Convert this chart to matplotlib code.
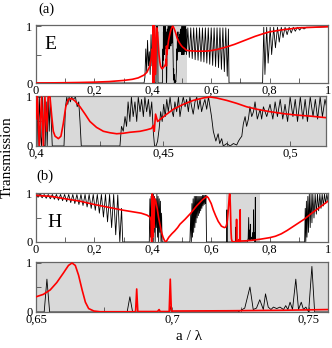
import numpy as np
import matplotlib
matplotlib.use("Agg")
import matplotlib.pyplot as plt
from matplotlib.ticker import FuncFormatter, MultipleLocator

plt.rcParams['font.family'] = ['Liberation Serif', 'DejaVu Serif']

# ---- E polarisation: (a/lambda, transmission) ----
e_black = [
    (0.0, 0.0), (0.37, 0.0), (0.373, 0.1), (0.376, 0.6), (0.379, 0.2), (0.382, 0.75),
    (0.385, 0.3), (0.388, 0.55), (0.391, 0.15), (0.394, 0.85), (0.397, 0.3), (0.3995, 0.7),
    (0.4000, 0.6), (0.4004, 1.0), (0.4008, 0.0), (0.4013, 1.0), (0.4018, 0.2), (0.4022, 0.0),
    (0.4026, 1.0), (0.4031, 0.0), (0.4036, 0.0), (0.4040, 0.9), (0.4044, 0.0), (0.4048, 1.0),
    (0.4052, 0.3), (0.4056, 1.0), (0.4060, 0.5), (0.4064, 0.0), (0.4110, 0.0), (0.4116, 0.8),
    (0.4121, 1.0), (0.4125, 0.85), (0.4130, 1.0), (0.4135, 0.9), (0.4140, 1.0), (0.4147, 0.95),
    (0.4155, 1.0), (0.4162, 0.8), (0.4168, 0.9), (0.4173, 0.5), (0.4178, 0.0), (0.4330, 0.0),
    (0.4336, 0.4), (0.4343, 0.3), (0.4350, 0.6), (0.4356, 0.4), (0.4362, 0.9), (0.4369, 0.5),
    (0.4375, 1.0), (0.4382, 0.6), (0.4389, 0.9), (0.4396, 0.5), (0.4402, 1.0), (0.4409, 0.7),
    (0.4415, 0.95), (0.4422, 0.6), (0.4428, 1.0), (0.4435, 0.7), (0.4442, 0.95), (0.4448, 0.6),
    (0.4455, 0.9), (0.4461, 0.3), (0.4466, 0.0), (0.4472, 0.0), (0.4478, 0.1), (0.4484, 0.35),
    (0.4490, 0.7), (0.4496, 0.5), (0.4502, 0.85), (0.4508, 0.6), (0.4514, 0.95), (0.4520, 0.7),
    (0.4527, 1.0), (0.4533, 0.75), (0.4540, 0.6), (0.4546, 0.9), (0.4553, 0.7), (0.4560, 1.0),
    (0.4566, 0.6), (0.4573, 0.85), (0.4579, 1.0), (0.4586, 0.8), (0.4592, 0.95), (0.4599, 0.7),
    (0.4605, 1.0), (0.4612, 0.8), (0.4618, 0.65), (0.4625, 0.9), (0.4632, 1.0), (0.4638, 0.75),
    (0.4645, 0.95), (0.4651, 0.7), (0.4658, 0.85), (0.4664, 0.95), (0.4671, 0.75), (0.4678, 1.0),
    (0.4690, 0.6), (0.4697, 0.3), (0.4707, 0.1), (0.4716, 0.25), (0.4722, 0.05), (0.4730, 0.15),
    (0.4736, 0.0), (0.4750, 0.05), (0.4763, 0.0), (0.4776, 0.05), (0.4789, 0.02), (0.4796, 0.1),
    (0.4802, 0.15), (0.4809, 0.2), (0.4815, 0.45), (0.4822, 0.6), (0.4828, 0.4), (0.4835, 0.55),
    (0.4841, 0.8), (0.4848, 0.6), (0.4855, 0.7), (0.4861, 0.9), (0.4870, 0.55), (0.4881, 0.75),
    (0.4887, 0.55), (0.4894, 0.8), (0.4907, 0.6), (0.4920, 0.85), (0.4931, 0.55), (0.4940, 0.9),
    (0.4949, 0.6), (0.4960, 0.95), (0.4970, 0.55), (0.4979, 0.85), (0.4989, 0.5), (0.4999, 1.0),
    (0.5010, 0.6), (0.5019, 0.95), (0.5028, 0.5), (0.5039, 1.0), (0.5049, 0.55), (0.5058, 0.95),
    (0.5067, 0.5), (0.5078, 1.0), (0.5089, 0.6), (0.5098, 0.95), (0.5107, 0.55), (0.5117, 1.0),
    (0.5126, 0.6), (0.5136, 0.95), (0.5155, 0.5), (0.520, 0.97), (0.525, 0.45), (0.530, 0.97),
    (0.535, 0.43), (0.540, 0.97), (0.545, 0.41), (0.550, 0.97), (0.555, 0.4), (0.560, 0.97),
    (0.565, 0.38), (0.570, 0.97), (0.575, 0.37), (0.580, 0.97), (0.585, 0.35), (0.590, 0.97),
    (0.595, 0.33), (0.600, 0.97), (0.605, 0.31), (0.610, 0.97), (0.615, 0.29), (0.620, 0.97),
    (0.625, 0.27), (0.630, 0.97), (0.635, 0.24), (0.640, 0.97), (0.645, 0.2), (0.650, 0.97),
    (0.655, 0.12), (0.659, 0.95), (0.661, 0.0), (0.776, 0.0), (0.780, 0.98), (0.784, 0.15),
    (0.790, 0.98), (0.795, 0.35), (0.802, 0.98), (0.807, 0.5), (0.814, 0.98), (0.820, 0.62),
    (0.827, 0.98), (0.833, 0.72), (0.840, 0.98), (0.846, 0.8), (0.853, 0.98), (0.860, 0.85),
    (0.867, 0.98), (0.874, 0.88), (0.881, 0.98), (0.888, 0.91), (0.895, 0.98), (0.903, 0.93),
    (0.910, 0.98), (0.918, 0.95), (0.926, 0.98), (0.95, 0.98), (1.0, 0.99),
]
e_red = [
    (0.0, 0.0), (0.05, 0.002), (0.1, 0.005), (0.15, 0.009), (0.2, 0.015), (0.25, 0.025),
    (0.3, 0.045), (0.33, 0.065), (0.35, 0.09), (0.37, 0.14), (0.38, 0.19), (0.39, 0.3),
    (0.395, 0.45), (0.398, 0.6), (0.4000, 0.55), (0.4005, 1.05), (0.4013, 0.0), (0.4022, 1.0),
    (0.4029, 0.0), (0.4035, 1.0), (0.4042, 0.3), (0.4048, 1.0), (0.4055, 1.0), (0.4062, 0.6),
    (0.4068, 0.3), (0.4075, 0.2), (0.4088, 0.15), (0.4098, 0.2), (0.4107, 0.45), (0.4117, 0.8),
    (0.4127, 0.95), (0.4140, 0.97), (0.4153, 0.92), (0.4173, 0.8), (0.4193, 0.65), (0.4212, 0.5),
    (0.4238, 0.38), (0.4265, 0.3), (0.4291, 0.27), (0.4317, 0.25), (0.4343, 0.26), (0.4369, 0.28),
    (0.4409, 0.3), (0.4435, 0.33), (0.4455, 0.36), (0.4461, 0.42), (0.4465, 0.3), (0.4470, 0.65),
    (0.4478, 0.5), (0.4490, 0.55), (0.4514, 0.65), (0.4540, 0.75), (0.4579, 0.85), (0.4618, 0.93),
    (0.4658, 0.98), (0.4684, 1.0), (0.4710, 0.98), (0.4750, 0.93), (0.4789, 0.87), (0.4828, 0.8),
    (0.4868, 0.75), (0.4920, 0.7), (0.4973, 0.66), (0.5025, 0.63), (0.5078, 0.61), (0.5136, 0.58),
    (0.52, 0.57), (0.55, 0.56), (0.58, 0.56), (0.6, 0.57), (0.62, 0.59), (0.65, 0.63),
    (0.68, 0.68), (0.7, 0.72), (0.73, 0.78), (0.75, 0.82), (0.78, 0.87), (0.8, 0.9),
    (0.85, 0.94), (0.9, 0.97), (0.95, 0.98), (1.0, 0.99),
]

# ---- H polarisation ----
h_black = [
    (0.000, 0.99), (0.007, 0.93), (0.014, 0.99), (0.021, 0.92), (0.028, 0.99), (0.035, 0.91),
    (0.042, 0.99), (0.049, 0.9), (0.056, 0.99), (0.063, 0.89), (0.070, 0.99), (0.077, 0.87),
    (0.084, 0.99), (0.091, 0.86), (0.098, 0.99), (0.105, 0.84), (0.112, 0.99), (0.119, 0.82),
    (0.126, 0.99), (0.133, 0.8), (0.140, 0.99), (0.147, 0.78), (0.154, 0.99), (0.161, 0.76),
    (0.168, 0.99), (0.175, 0.73), (0.182, 0.99), (0.189, 0.7), (0.196, 0.99), (0.203, 0.66),
    (0.210, 0.99), (0.217, 0.6), (0.224, 0.99), (0.231, 0.52), (0.238, 0.99), (0.245, 0.42),
    (0.252, 0.99), (0.259, 0.3), (0.266, 0.99), (0.273, 0.15), (0.280, 0.98), (0.287, 0.0),
    (0.293, 0.7), (0.297, 0.0), (0.388, 0.0), (0.390, 0.9), (0.392, 0.1), (0.394, 0.95),
    (0.396, 0.0), (0.398, 0.8), (0.400, 0.0), (0.402, 1.0), (0.404, 0.2), (0.406, 0.95),
    (0.408, 0.0), (0.410, 0.9), (0.412, 0.3), (0.414, 1.0), (0.416, 0.1), (0.418, 0.95),
    (0.420, 0.0), (0.422, 0.9), (0.424, 0.2), (0.426, 0.85), (0.428, 0.0), (0.430, 0.6),
    (0.432, 0.0), (0.527, 0.0), (0.530, 0.6), (0.532, 0.0), (0.534, 0.8), (0.536, 0.1),
    (0.538, 0.9), (0.540, 0.2), (0.542, 0.95), (0.544, 0.3), (0.546, 0.95), (0.548, 0.4),
    (0.550, 0.95), (0.552, 0.5), (0.554, 0.95), (0.556, 0.55), (0.558, 0.95), (0.560, 0.6),
    (0.562, 0.95), (0.564, 0.65), (0.566, 0.95), (0.568, 0.7), (0.570, 0.97), (0.572, 0.75),
    (0.574, 0.97), (0.576, 0.78), (0.578, 0.97), (0.580, 0.8), (0.582, 0.97), (0.584, 0.0),
    (0.6530, 0.0), (0.6540, 0.67), (0.6550, 0.0), (0.6834, 0.0), (0.6844, 0.31), (0.6854, 0.0),
    (0.6990, 0.0), (0.6994, 0.12), (0.6998, 0.0), (0.7240, 0.0), (0.7265, 0.08), (0.7284, 0.51),
    (0.7296, 0.05), (0.7308, 0.08), (0.7320, 0.25), (0.7333, 0.05), (0.7341, 0.37), (0.7351, 0.1),
    (0.7361, 0.05), (0.7370, 0.1), (0.7382, 0.07), (0.7394, 0.1), (0.7407, 0.05), (0.7415, 0.13),
    (0.7423, 0.05), (0.7431, 0.2), (0.7440, 0.05), (0.7452, 0.67), (0.7462, 0.05), (0.7472, 0.2),
    (0.7480, 0.05), (0.7489, 0.1), (0.7499, 0.0), (0.7511, 0.93), (0.7521, 0.0), (0.920, 0.0),
    (0.922, 0.7), (0.924, 0.0), (0.926, 0.85), (0.928, 0.1), (0.931, 0.95), (0.933, 0.2),
    (0.936, 1.0), (0.939, 0.3), (0.942, 1.0), (0.945, 0.4), (0.948, 1.0), (0.952, 0.5),
    (0.956, 1.0), (0.960, 0.58), (0.964, 1.0), (0.968, 0.65), (0.972, 1.0), (0.976, 0.7),
    (0.980, 1.0), (0.984, 0.75), (0.988, 1.0), (0.992, 0.8), (0.996, 1.0), (1.0, 0.85),
]
h_red = [
    (0.0, 0.97), (0.05, 0.95), (0.1, 0.9), (0.15, 0.85), (0.2, 0.78), (0.25, 0.72),
    (0.3, 0.66), (0.33, 0.63), (0.36, 0.6), (0.38, 0.56), (0.39, 0.52), (0.394, 0.45),
    (0.396, 0.0), (0.398, 1.0), (0.400, 0.1), (0.402, 0.95), (0.404, 0.3), (0.406, 0.9),
    (0.410, 0.85), (0.415, 0.7), (0.42, 0.5), (0.425, 0.35), (0.43, 0.2), (0.435, 0.1),
    (0.44, 0.03), (0.445, 0.0), (0.455, 0.1), (0.465, 0.17), (0.475, 0.23), (0.485, 0.3),
    (0.493, 0.37), (0.51, 0.47), (0.53, 0.6), (0.55, 0.75), (0.57, 0.88), (0.585, 0.95),
    (0.59, 0.92), (0.6, 0.8), (0.607, 0.67), (0.615, 0.55), (0.624, 0.43), (0.635, 0.33),
    (0.645, 0.3), (0.650, 0.31), (0.6527, 0.36), (0.6552, 0.45), (0.6576, 0.6), (0.6601, 0.8),
    (0.6619, 0.95), (0.6632, 1.0), (0.6644, 0.95), (0.6656, 0.75), (0.6669, 0.45), (0.6681, 0.2),
    (0.6693, 0.07), (0.6712, 0.02), (0.6736, 0.005), (0.6859, 0.005), (0.6865, 0.01), (0.6869, 0.47),
    (0.6873, 0.01), (0.6945, 0.01), (0.6951, 0.05), (0.6955, 0.01), (0.6988, 0.01), (0.6992, 0.67),
    (0.6996, 0.02), (0.72, 0.025), (0.74, 0.035), (0.757, 0.05), (0.77, 0.06), (0.8, 0.09),
    (0.82, 0.12), (0.84, 0.17), (0.86, 0.24), (0.88, 0.32), (0.9, 0.4), (0.92, 0.48),
    (0.94, 0.58), (0.96, 0.67), (0.98, 0.76), (1.0, 0.85),
]

e_band = (0.408, 0.518)
h_band = (0.652, 0.768)
shade = '#d9d9d9'


def comma(v, pos):
    s = ('%.3f' % v).rstrip('0').rstrip('.')
    return s.replace('.', ',')


W, H = 332.0, 348.0
fig = plt.figure(figsize=(W / 100, H / 100), dpi=100)


def make_ax(x0, y0, x1, y1):
    return fig.add_axes([x0 / W, 1 - y1 / H, (x1 - x0) / W, (y1 - y0) / H])


ax1 = make_ax(36, 25, 328, 83)
ax2 = make_ax(36, 96, 326, 146)
ax3 = make_ax(36, 193, 328, 242)
ax4 = make_ax(36, 262, 328, 312)

panels = [
    (ax1, e_black, e_red, (0, 1), 0.2, 0.1),
    (ax2, e_black, e_red, (0.4, 0.514), 0.05, 0.025),
    (ax3, h_black, h_red, (0, 1), 0.2, 0.1),
    (ax4, h_black, h_red, (0.65, 0.757), 0.05, 0.025),
]
for ax, blk, red, xl, maj, mnr in panels:
    b = np.array(blk)
    r = np.array(red)
    ax.plot(b[:, 0], b[:, 1], color='black', lw=0.6, zorder=2)
    ax.plot(r[:, 0], r[:, 1], color='#ff0000', lw=1.2, zorder=3)
    ax.set_xlim(*xl)
    ax.set_ylim(0, 1.02)
    ax.xaxis.set_major_locator(MultipleLocator(maj))
    ax.xaxis.set_minor_locator(MultipleLocator(mnr))
    ax.xaxis.set_major_formatter(FuncFormatter(comma))
    ax.set_yticks([0, 1])
    ax.set_yticks([0.5], minor=True)
    ax.yaxis.set_major_formatter(FuncFormatter(comma))
    ax.tick_params(which='both', direction='in', length=3.5, width=0.6,
                   top=False, right=False, labelsize=9, pad=1.5, color='0.3')
    ax.tick_params(axis='y', pad=2.5)
    for sp in ax.spines.values():
        sp.set_color('0.4')
        sp.set_linewidth(0.9)

ax1.axvspan(*e_band, color=shade, zorder=0, lw=0)
ax3.axvspan(*h_band, color=shade, zorder=0, lw=0)
ax2.set_facecolor(shade)
ax4.set_facecolor(shade)

fig.text(46 / W, 1 - 9 / H, '(a)', fontsize=10.5, ha='center', va='center')
fig.text(45 / W, 1 - 176 / H, '(b)', fontsize=10.5, ha='center', va='center')
ax1.text(0.05, 0.66, 'E', transform=ax1.transAxes, fontsize=14, ha='center', va='center')
ax3.text(0.062, 0.39, 'H', transform=ax3.transAxes, fontsize=14, ha='center', va='center')
fig.text(7 / W, 1 - 157 / H, 'Transmission', fontsize=11, rotation=90,
         ha='center', va='center')
fig.text(189 / W, 1 - 336 / H, 'a / λ', fontsize=11, ha='center', va='center')

fig.savefig('out.png', dpi=100)
